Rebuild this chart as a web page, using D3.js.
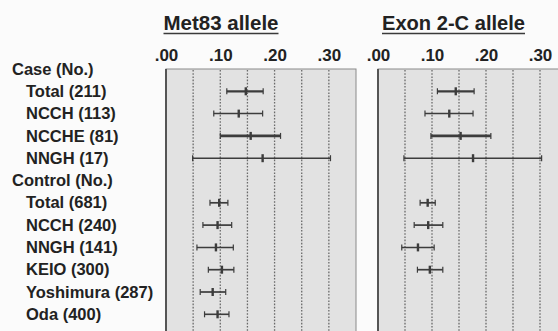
<!DOCTYPE html>
<html>
<head>
<meta charset="utf-8">
<script src="https://cdn.jsdelivr.net/npm/d3@7/dist/d3.min.js"></script>
<style>
  html, body { margin: 0; padding: 0; background: #fbfbfb; }
  svg { display: block; }
  text { font-family: "Liberation Sans", Arial, Helvetica, sans-serif; font-weight: bold; fill: #222; }
</style>
</head>
<body>
<svg id="chart" width="558" height="331"></svg>
<script>
// Row labels, top to bottom (group headers included)
const rowLabels = [
  "Case (No.)", "Total (211)", "NCCH (113)", "NCCHE (81)", "NNGH (17)",
  "Control (No.)", "Total (681)", "NCCH (240)", "NNGH (141)", "KEIO (300)",
  "Yoshimura (287)", "Oda (400)"
];
const headerRows = ["Case (No.)", "Control (No.)"];

// Allele frequencies: point estimate with lower / upper 95% limits (null = not reported)
const met83Est   = [null, 0.147, 0.134, 0.156, 0.178, null, 0.098, 0.095, 0.092, 0.103, 0.086, 0.095];
const met83Low   = [null, 0.112, 0.088, 0.100, 0.049, null, 0.081, 0.068, 0.057, 0.078, 0.063, 0.071];
const met83High  = [null, 0.179, 0.178, 0.211, 0.303, null, 0.114, 0.121, 0.124, 0.125, 0.110, 0.116];

const exon2Est   = [null, 0.144, 0.132, 0.153, 0.176, null, 0.092, 0.093, 0.074, 0.096, null, null];
const exon2Low   = [null, 0.110, 0.087, 0.098, 0.048, null, 0.078, 0.067, 0.044, 0.073, null, null];
const exon2High  = [null, 0.178, 0.176, 0.209, 0.303, null, 0.106, 0.120, 0.104, 0.120, null, null];

const panelTitles = ["Met83 allele", "Exon 2-C allele"];
const tickValues = [0, 0.10, 0.20, 0.30];
const tickLabels = [".00", ".10", ".20", ".30"];
const gridValues = [0.05, 0.10, 0.15, 0.20, 0.25, 0.30];

// Line weight per row (heavier strokes for some case rows)
const lineWeight = [0, 2.2, 1.5, 2.8, 1.4, 0, 1.7, 1.7, 1.5, 1.7, 1.7, 1.6];

const svg = d3.select("#chart");
const W = 558, H = 331;

const y = d3.scalePoint().domain(rowLabels).range([69, 314.3]);

// Row labels
svg.append("g").selectAll("text")
  .data(rowLabels)
  .join("text")
  .attr("x", d => headerRows.includes(d) ? 12 : 26)
  .attr("y", d => y(d) + 5.6)
  .attr("font-size", 16.5)
  .text(d => d);

const panels = [
  { title: panelTitles[0], x0: 166, x1: 356, est: met83Est, low: met83Low, high: met83High, titleX: 221, titleLen: 115 },
  { title: panelTitles[1], x0: 378, x1: 567, est: exon2Est, low: exon2Low, high: exon2High, titleX: 453.5, titleLen: 143 }
];

const panelTop = 69;

panels.forEach(p => {
  const x = d3.scaleLinear().domain([0, 0.35]).range([p.x0, p.x1]);
  const g = svg.append("g");

  // panel background
  g.append("rect")
    .attr("x", p.x0).attr("y", panelTop)
    .attr("width", p.x1 - p.x0).attr("height", H - panelTop + 5)
    .attr("fill", "#e2e2e2")
    .attr("stroke", "#8a8a8a").attr("stroke-width", 1);
  // heavier left edge
  g.append("line")
    .attr("x1", p.x0).attr("x2", p.x0)
    .attr("y1", panelTop).attr("y2", H)
    .attr("stroke", "#555").attr("stroke-width", 2);

  // dotted gridlines
  g.append("g").selectAll("line")
    .data(gridValues)
    .join("line")
    .attr("x1", d => x(d)).attr("x2", d => x(d))
    .attr("y1", panelTop + 1).attr("y2", H)
    .attr("stroke", "#6a6a6a")
    .attr("stroke-width", 1.3)
    .attr("stroke-dasharray", "1.6,1.6");

  // top axis tick labels
  const axis = d3.axisTop(x)
    .tickValues(tickValues)
    .tickFormat((d, i) => tickLabels[i])
    .tickSize(0)
    .tickPadding(0);
  const ax = g.append("g")
    .attr("transform", `translate(0,61)`)
    .call(axis);
  ax.select(".domain").remove();
  ax.selectAll("text")
    .attr("font-size", 17)
    .attr("font-family", "\"Liberation Sans\", Arial, sans-serif")
    .attr("font-weight", "bold")
    .attr("fill", "#222")
    .attr("dy", 0);

  // underlined panel title
  g.append("text")
    .attr("x", p.titleX).attr("y", 30)
    .attr("text-anchor", "middle")
    .attr("font-size", 20)
    .attr("textLength", p.titleLen)
    .attr("lengthAdjust", "spacingAndGlyphs")
    .text(p.title);
  g.append("line")
    .attr("x1", p.titleX - p.titleLen / 2).attr("x2", p.titleX + p.titleLen / 2)
    .attr("y1", 33.5).attr("y2", 33.5)
    .attr("stroke", "#3a3a3a").attr("stroke-width", 1.3);

  // confidence interval bars
  const rows = rowLabels.map((label, i) => ({
    label, est: p.est[i], low: p.low[i], high: p.high[i], w: lineWeight[i]
  })).filter(d => d.est !== null);

  const bars = g.append("g").selectAll("g")
    .data(rows)
    .join("g")
    .attr("stroke", "#3c3c3c");

  bars.append("line")
    .attr("x1", d => x(d.low)).attr("x2", d => x(d.high))
    .attr("y1", d => y(d.label)).attr("y2", d => y(d.label))
    .attr("stroke-width", d => d.w);
  bars.append("line")
    .attr("x1", d => x(d.low)).attr("x2", d => x(d.low))
    .attr("y1", d => y(d.label) - 3).attr("y2", d => y(d.label) + 3)
    .attr("stroke-width", 1.2);
  bars.append("line")
    .attr("x1", d => x(d.high)).attr("x2", d => x(d.high))
    .attr("y1", d => y(d.label) - 3).attr("y2", d => y(d.label) + 3)
    .attr("stroke-width", 1.2);
  bars.append("line")
    .attr("x1", d => x(d.est)).attr("x2", d => x(d.est))
    .attr("y1", d => y(d.label) - 4).attr("y2", d => y(d.label) + 4)
    .attr("stroke-width", 2.4);
});
</script>
</body>
</html>
